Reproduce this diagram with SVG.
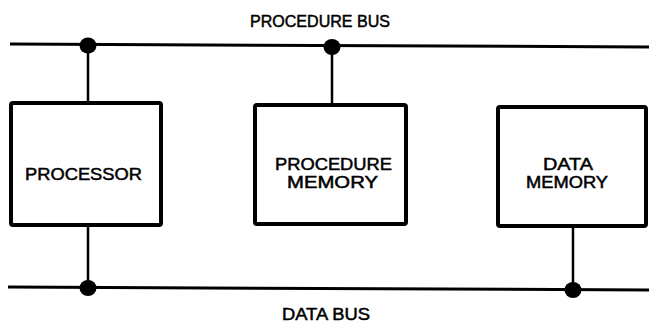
<svg xmlns="http://www.w3.org/2000/svg" width="649" height="324" viewBox="0 0 649 324">
<style>
.box{fill:#fff;stroke:#000;stroke-width:4;}
.bus{stroke:#000;stroke-width:3;fill:none;}
.wire{stroke:#000;stroke-width:2.5;fill:none;}
.dot{fill:#000;}
.lbl{font-family:"Liberation Sans",Arial,sans-serif;font-size:17px;fill:#000;stroke:#000;stroke-width:0.5;}
</style>
<rect width="649" height="324" fill="#fff"/>
<g id="connectors">
<line class="bus" x1="10" y1="44" x2="649" y2="47"/>
<line class="bus" x1="8" y1="287" x2="649" y2="290"/>
<line class="wire" x1="88" y1="45" x2="88" y2="102"/>
<line class="wire" x1="332" y1="47" x2="332" y2="104"/>
<line class="wire" x1="88" y1="226" x2="88" y2="288"/>
<line class="wire" x1="573" y1="227" x2="573" y2="290"/>
<ellipse class="dot" cx="88" cy="45.5" rx="8.5" ry="8"/>
<ellipse class="dot" cx="332" cy="47" rx="8.5" ry="8"/>
<ellipse class="dot" cx="88" cy="288" rx="8.5" ry="8"/>
<ellipse class="dot" cx="573" cy="290" rx="8.5" ry="8"/>
</g>
<g id="procedure-bus-label">
<text class="lbl" x="250" y="27" textLength="140" lengthAdjust="spacingAndGlyphs">PROCEDURE BUS</text>
</g>
<g id="data-bus-label">
<text class="lbl" x="282" y="320" textLength="88" lengthAdjust="spacingAndGlyphs">DATA BUS</text>
</g>
<g id="processor">
<rect class="box" x="11" y="103" width="150" height="122" rx="2"/>
<text class="lbl" x="25" y="180" textLength="117" lengthAdjust="spacingAndGlyphs">PROCESSOR</text>
</g>
<g id="procedure-memory">
<rect class="box" x="255" y="105" width="151" height="119" rx="2"/>
<text class="lbl" x="275" y="170" textLength="117" lengthAdjust="spacingAndGlyphs">PROCEDURE</text>
<text class="lbl" x="287" y="188" textLength="91" lengthAdjust="spacingAndGlyphs">MEMORY</text>
</g>
<g id="data-memory">
<rect class="box" x="498" y="107" width="148" height="119" rx="2"/>
<text class="lbl" x="543" y="170" textLength="50" lengthAdjust="spacingAndGlyphs">DATA</text>
<text class="lbl" x="526" y="188" textLength="82" lengthAdjust="spacingAndGlyphs">MEMORY</text>
</g>
</svg>
